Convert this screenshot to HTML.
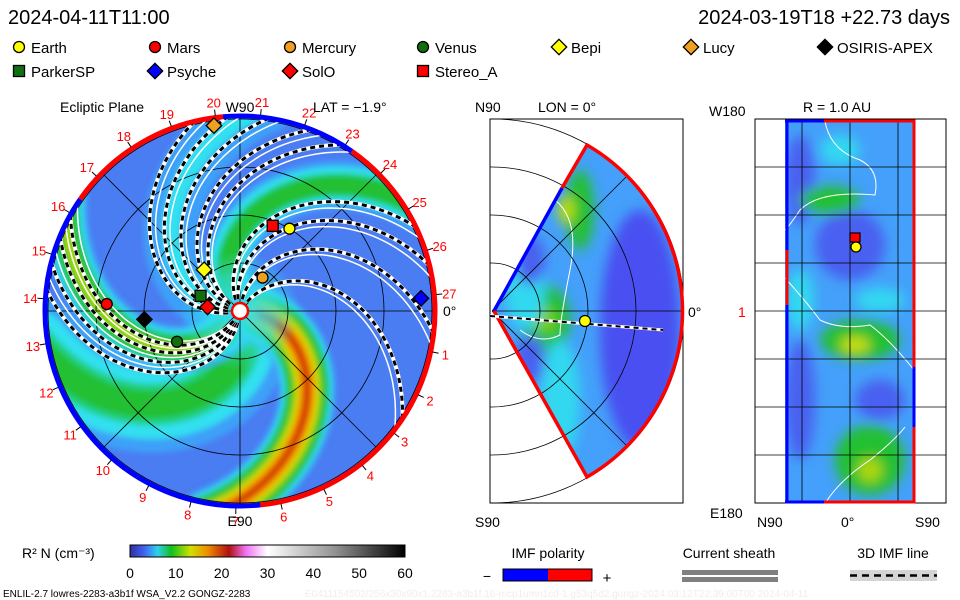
<!DOCTYPE html>
<html><head><meta charset="utf-8"><style>
html,body{margin:0;padding:0;background:#fff;}
svg{display:block;font-family:"Liberation Sans",sans-serif;}
</style></head><body>
<svg id="s" width="960" height="600" viewBox="0 0 960 600" xmlns="http://www.w3.org/2000/svg">
<defs>
<clipPath id="diskClip"><circle cx="240" cy="311" r="195"/></clipPath>
<clipPath id="wedgeClip"><path d="M492,311 L587,145 A192,192 0 0 1 587,477 Z"/></clipPath>
<clipPath id="boxClip"><rect x="490" y="119" width="193" height="384"/></clipPath>
<clipPath id="rectClip"><rect x="785" y="121" width="129" height="381"/></clipPath>
<filter id="blur" x="-20%" y="-20%" width="140%" height="140%"><feGaussianBlur stdDeviation="3"/></filter>
<filter id="blur2" x="-50%" y="-50%" width="200%" height="200%"><feGaussianBlur stdDeviation="6"/></filter>
<linearGradient id="cbar" x1="0" x2="1" y1="0" y2="0">
<stop offset="0" stop-color="#3030a0"/><stop offset="0.05" stop-color="#4060f0"/><stop offset="0.1" stop-color="#30d0f0"/>
<stop offset="0.15" stop-color="#10c020"/><stop offset="0.22" stop-color="#d0e000"/><stop offset="0.28" stop-color="#f09000"/>
<stop offset="0.36" stop-color="#b01010"/><stop offset="0.42" stop-color="#f070f0"/><stop offset="0.5" stop-color="#ffffff"/>
<stop offset="0.75" stop-color="#909090"/><stop offset="1" stop-color="#000000"/></linearGradient>
<radialGradient id="core" cx="0.5" cy="0.5" r="0.5"><stop offset="0" stop-color="#30e0f0"/><stop offset="0.6" stop-color="#30e0f0" stop-opacity="0.6"/><stop offset="1" stop-color="#30e0f0" stop-opacity="0"/></radialGradient>
</defs>

<!-- titles -->
<text x="8" y="24" font-size="20">2024-04-11T11:00</text>
<text x="950" y="24" font-size="20" text-anchor="end">2024-03-19T18 +22.73 days</text>
<g id="legend" font-size="15"></g>

<!-- ecliptic panel -->
<g>
<circle cx="240" cy="311" r="195" fill="#4a7cf2"/>
<g id="bands" clip-path="url(#diskClip)" filter="url(#blur)"></g>
<circle cx="240" cy="311" r="60" fill="url(#core)" clip-path="url(#diskClip)"/>
<g id="grid1" fill="none" stroke="#000" stroke-width="0.8"></g>
<g id="sheath" clip-path="url(#diskClip)" fill="none"></g>
<g id="rim" fill="none" stroke-width="5"></g>
<circle cx="240" cy="311" r="8" fill="#fff" stroke="#f00" stroke-width="2.5"/>
<g id="rimlabels" font-size="13" fill="#f00" text-anchor="middle"></g>
<g id="bodies"></g>
<text x="60" y="112" font-size="14">Ecliptic Plane</text>
<text x="240" y="112" font-size="14" text-anchor="middle">W90</text>
<text x="313" y="112" font-size="14">LAT = −1.9°</text>
<text x="240" y="526" font-size="14" text-anchor="middle">E90</text>
<text x="443" y="316" font-size="14">0°</text>
</g>

<!-- meridional panel -->
<g>
<rect x="490" y="119" width="193" height="384" fill="none" stroke="#000" stroke-width="1"/>
<g clip-path="url(#wedgeClip)">
<rect x="480" y="119" width="210" height="384" fill="#44a0fa"/>
<g filter="url(#blur2)">
<ellipse cx="640" cy="330" rx="40" ry="120" fill="#4850f0"/>
<ellipse cx="545" cy="320" rx="25" ry="35" fill="#20c030"/>
<ellipse cx="545" cy="320" rx="10" ry="12" fill="#80d010"/>
<ellipse cx="580" cy="210" rx="14" ry="40" fill="#20c030"/>
<ellipse cx="566" cy="210" rx="8" ry="14" fill="#c0e000"/>
<ellipse cx="525" cy="290" rx="20" ry="40" fill="#30d8f0"/>
<ellipse cx="560" cy="400" rx="20" ry="60" fill="#30d8f0"/>
<ellipse cx="530" cy="360" rx="15" ry="25" fill="#4860f0"/>
<ellipse cx="530" cy="260" rx="15" ry="25" fill="#4860f0"/>
</g>
<path d="M555,200 Q580,220 570,270 Q560,320 560,335 Q540,345 520,330" fill="none" stroke="#fff" stroke-width="1"/>
</g>
<g id="grid2" fill="none" stroke="#000" stroke-width="0.8" clip-path="url(#boxClip)"></g>
<path d="M494,311 L562,188" stroke="#00f" stroke-width="3.5" fill="none"/>
<path d="M562,188 L587,145 A192,192 0 0 1 587,477 L494,311" stroke="#f00" stroke-width="3.5" fill="none"/>
<path d="M490,316 L663,330" stroke="#fff" stroke-width="3"/>
<path d="M490,316 L663,330" stroke="#000" stroke-width="2" stroke-dasharray="5,4"/>
<circle cx="585" cy="321" r="5.5" fill="#ff0" stroke="#000" stroke-width="1.2"/>
<text x="475" y="112" font-size="14">N90</text>
<text x="538" y="112" font-size="14">LON = 0°</text>
<text x="475" y="527" font-size="14">S90</text>
<text x="688" y="317" font-size="14">0°</text>
</g>

<!-- R=1AU panel -->
<g>
<rect x="755" y="119" width="191" height="384" fill="none" stroke="#000" stroke-width="1"/>
<g clip-path="url(#rectClip)">
<rect x="785" y="121" width="129" height="381" fill="#44a0fa"/>
<g filter="url(#blur2)">
<ellipse cx="850" cy="245" rx="35" ry="35" fill="#4860f0"/>
<ellipse cx="800" cy="180" rx="15" ry="45" fill="#4860f0"/>
<ellipse cx="800" cy="400" rx="15" ry="60" fill="#4860f0"/>
<ellipse cx="880" cy="400" rx="25" ry="20" fill="#4860f0"/>
<ellipse cx="860" cy="340" rx="40" ry="20" fill="#20c030"/>
<ellipse cx="855" cy="345" rx="15" ry="8" fill="#d0e000"/>
<ellipse cx="830" cy="200" rx="30" ry="14" fill="#20c030"/>
<ellipse cx="870" cy="460" rx="35" ry="35" fill="#20c030"/>
<ellipse cx="870" cy="470" rx="12" ry="12" fill="#b0d800"/>
<ellipse cx="800" cy="300" rx="14" ry="30" fill="#30d8f0"/>
<ellipse cx="880" cy="300" rx="25" ry="12" fill="#30d8f0"/>
<ellipse cx="840" cy="150" rx="20" ry="15" fill="#30d8f0"/>
</g>
<path d="M825,121 Q830,150 860,160 Q880,170 875,195 Q820,190 800,210 Q790,225 785,230" fill="none" stroke="#fff" stroke-width="1"/>
<path d="M785,278 Q805,300 820,320 Q840,330 870,325 Q890,340 914,370" fill="none" stroke="#fff" stroke-width="1"/>
<path d="M826,502 Q840,480 870,460 Q895,440 905,427" fill="none" stroke="#fff" stroke-width="1"/>
</g>
<g id="grid3" stroke="#000" stroke-width="0.8"></g>
<path d="M787,121 L787,502" stroke="#00f" stroke-width="3"/>
<path d="M787,250 L787,305" stroke="#f00" stroke-width="3"/>
<path d="M785,121 L824,121 M785,502 L824,502" stroke="#00f" stroke-width="3"/>
<path d="M824,121 L914,121 L914,367 M824,502 L914,502 L914,427" stroke="#f00" stroke-width="3" fill="none"/>
<path d="M914,367 L914,427" stroke="#00f" stroke-width="3"/>
<rect x="850" y="233" width="10" height="9" fill="#f00" stroke="#000" stroke-width="1.2"/>
<circle cx="856" cy="247" r="5" fill="#ff0" stroke="#000" stroke-width="1.2"/>
<text x="709" y="116" font-size="14">W180</text>
<text x="803" y="112" font-size="14">R = 1.0 AU</text>
<text x="710" y="518" font-size="14">E180</text>
<text x="738" y="317" font-size="14" fill="#f00">1</text>
<text x="757" y="527" font-size="14">N90</text>
<text x="841" y="527" font-size="14">0°</text>
<text x="915" y="527" font-size="14">S90</text>
</g>

<!-- bottom legends -->
<g>
<text x="22" y="558" font-size="14">R² N (cm⁻³)</text>
<rect x="130" y="545" width="275" height="12" fill="url(#cbar)" stroke="#000" stroke-width="1"/>
<g id="cbticks" font-size="14" text-anchor="middle"></g>
</g>
<g>
<text x="548" y="558" font-size="14" text-anchor="middle">IMF polarity</text>
<rect x="503" y="569" width="45" height="12" fill="#00f"/>
<rect x="548" y="569" width="44" height="12" fill="#f00"/>
<rect x="503" y="569" width="89" height="12" fill="none" stroke="#000"/>
<text x="487" y="581" font-size="14" text-anchor="middle">−</text>
<text x="607" y="583" font-size="15" text-anchor="middle">+</text>
</g>
<g>
<text x="729" y="558" font-size="14" text-anchor="middle">Current sheath</text>
<rect x="682" y="570" width="96" height="5" fill="#808080"/>
<rect x="682" y="577" width="96" height="5" fill="#808080"/>
</g>
<g>
<text x="893" y="558" font-size="14" text-anchor="middle">3D IMF line</text>
<rect x="850" y="570" width="87" height="11" fill="#d4d4d4"/>
<path d="M850,575.5 L937,575.5" stroke="#000" stroke-width="2.5" stroke-dasharray="7,5"/>
</g>
<text x="3" y="597" font-size="10">ENLIL-2.7 lowres-2283-a3b1f WSA_V2.2 GONGZ-2283</text>
<text x="305" y="597" font-size="10" fill="#eeeeee">E0411154502/256x30x90x1.2283-a3b1f.16-mcp1umn1cd-1.g53q5d2.gongz-2024:03:12T22:39:00T00     2024-04-11</text>
</svg>
<script>
// ---------- data ----------
const bandTheta1AU = [118, -135, 160, -82, 46];      // deg at 1 AU
const bandWidth    = [110, 75, 50, 55, 60];          // px
const bandPeak     = [12, 8, 16, 13, 23];            // density peak
const bandRmin     = [20, 15, 20, 20, 20];
const sheathTheta1AU = [140, 148, 156, 163, -150, -140, -128, -115, -105, -72, -60, -40, -13];
const bodyNames = ["Earth","Mars","Mercury","Venus","Bepi","Lucy","OSIRIS-APEX","ParkerSP","Psyche","SolO","Stereo_A"];
const bodyR     = [1.0, 1.39, 0.42, 0.73, 0.57, 1.95, 1.0, 0.44, 1.89, 0.34, 0.95];   // AU
const bodyAng   = [-59, -177, -56, 154, -131, -98, 175, -159, -4, -173, -69];        // deg (screen, cw from +x)
const bodyShape = ["circle","circle","circle","circle","diamond","diamond","diamond","square","diamond","diamond","square"];
const bodyColor = ["#ffff00","#ff0000","#f0a020","#107010","#ffff00","#f0a020","#000000","#107010","#0000ff","#ff0000","#ff0000"];
const rimLabelNums = [1,2,3,4,5,6,7,8,9,10,11,12,13,14,15,16,17,18,19,20,21,22,23,24,25,26,27];
const rimStartAng = 12, rimStep = 13.2;
const polaritySegStart = [-55, 84, 215, 265];
const polaritySegEnd   = [84, 215, 265, 305];
const polaritySegSign  = [1, -1, 1, -1];
const cbTicks = [0,10,20,30,40,50,60];
const levels = [5,7,9,10,13,15,17,19,21,23];
const levelColor = ["#3da0f8","#30e0f0","#20d080","#20c030","#60c820","#c0e000","#f0c000","#f08000","#d03000","#b01000"];

const NS="http://www.w3.org/2000/svg";
const CX=240, CY=311, RD=195, PXAU=96, K=0.47;
function el(tag, attrs, parent){const e=document.createElementNS(NS,tag);for(const k in attrs)e.setAttribute(k,attrs[k]);parent.appendChild(e);return e;}
function pol(r,deg){const a=deg*Math.PI/180;return [CX+r*Math.cos(a),CY+r*Math.sin(a)];}
function spiral(t1,rmin,rmax){let d="";for(let r=rmin;r<=rmax;r+=4){const p=pol(r,t1+K*(r-PXAU));d+=(d?"L":"M")+p[0].toFixed(1)+","+p[1].toFixed(1);}return d;}

// bands
const bands=document.getElementById('bands');
for(let i=0;i<bandTheta1AU.length;i++){
  const d=spiral(bandTheta1AU[i],bandRmin[i],210);
  for(let j=0;j<levels.length;j++){
    const L=levels[j]; if(L>=bandPeak[i]) break;
    const w=bandWidth[i]*(bandPeak[i]-L)/(bandPeak[i]-4);
    const p=el('path',{d:d,stroke:levelColor[j],'stroke-width':w.toFixed(1),fill:'none','stroke-linecap':'round'},bands);
    
    
  }
}
// grid
const g1=document.getElementById('grid1');
[48,96,144,192].forEach(r=>el('circle',{cx:CX,cy:CY,r:r},g1));
[0,45,90,135].forEach(a=>{const p=pol(RD,a),q=pol(RD,a+180);el('line',{x1:p[0],y1:p[1],x2:q[0],y2:q[1]},g1);});
// sheath lines
const sh=document.getElementById('sheath');
sheathTheta1AU.forEach(t=>{
  const d=spiral(t,12,205);
  el('path',{d:spiral(t+4,12,205),stroke:'#fff','stroke-width':1.5},sh);
  el('path',{d:d,stroke:'#fff','stroke-width':4},sh);
  const p=el('path',{d:d,stroke:'#000','stroke-width':3,'stroke-dasharray':'5,4'},sh);
  
  
});
// rim polarity
const rim=document.getElementById('rim');
for(let i=0;i<polaritySegStart.length;i++){
  const a=polaritySegStart[i], b=polaritySegEnd[i];
  const p=pol(RD,a), q=pol(RD,b);
  const s=el('path',{d:`M${p[0]},${p[1]} A${RD},${RD} 0 ${(b-a)>180?1:0} 1 ${q[0]},${q[1]}`,stroke:polaritySegSign[i]>0?'#f00':'#00f'},rim);
  
  
}
// rim labels
const rl=document.getElementById('rimlabels');
rimLabelNums.forEach((n,i)=>{
  const a=rimStartAng+i*rimStep; const p=pol(210,a); const t=pol(197,a), t2=pol(203,a);
  el('line',{x1:t[0],y1:t[1],x2:t2[0],y2:t2[1],stroke:'#000','stroke-width':1},rl);
  const tx=el('text',{x:p[0].toFixed(1),y:(p[1]+5).toFixed(1)},rl);
  tx.textContent=n;
  
  
});
// markers
function marker(shape,x,y,color,parent,s){
  if(shape==='circle') return el('circle',{cx:x,cy:y,r:s,fill:color,stroke:'#000','stroke-width':1.3},parent);
  if(shape==='square') return el('rect',{x:x-s,y:y-s,width:2*s,height:2*s,fill:color,stroke:'#000','stroke-width':1.3},parent);
  const d=s*1.4; return el('path',{d:`M${x},${y-d}L${x+d},${y}L${x},${y+d}L${x-d},${y}Z`,fill:color,stroke:'#000','stroke-width':1.3},parent);
}
const bodies=document.getElementById('bodies');
for(let i=0;i<bodyNames.length;i++){
  const p=pol(bodyR[i]*PXAU,bodyAng[i]);
  const m=marker(bodyShape[i],p[0],p[1],bodyColor[i],bodies,5.5);
  
  
}
// legend
const lg=document.getElementById('legend');
const lx=[19,155,290,423,559,691,825], ly=[48,72];
for(let i=0;i<bodyNames.length;i++){
  const row=i<7?0:1, col=i<7?i:i-7;
  const x=lx[col], y=ly[row];
  const m=marker(bodyShape[i],x,y-1,bodyColor[i],lg,5.5);
  
  
  const t=el('text',{x:x+12,y:y+5},lg); t.textContent=bodyNames[i];
  
  
}
// meridional grid
const g2=document.getElementById('grid2');
[48,96,144,192].forEach(r=>el('circle',{cx:492,cy:311,r:r},g2));
[-45,0,45].forEach(a=>{const r=a*Math.PI/180;el('line',{x1:492,y1:311,x2:492+192*Math.cos(r),y2:311+192*Math.sin(r)},g2);});
// r1au grid
const g3=document.getElementById('grid3');
[167,215,263,311,359,407,455].forEach(y=>el('line',{x1:755,y1:y,x2:946,y2:y},g3));
[802,850,898].forEach(x=>el('line',{x1:x,y1:119,x2:x,y2:503},g3));
// colorbar ticks
const cb=document.getElementById('cbticks');
cbTicks.forEach(v=>{const x=130+275*v/60;const t=el('text',{x:x,y:578},cb);t.textContent=v;
  
  });
</script>
</body></html>
